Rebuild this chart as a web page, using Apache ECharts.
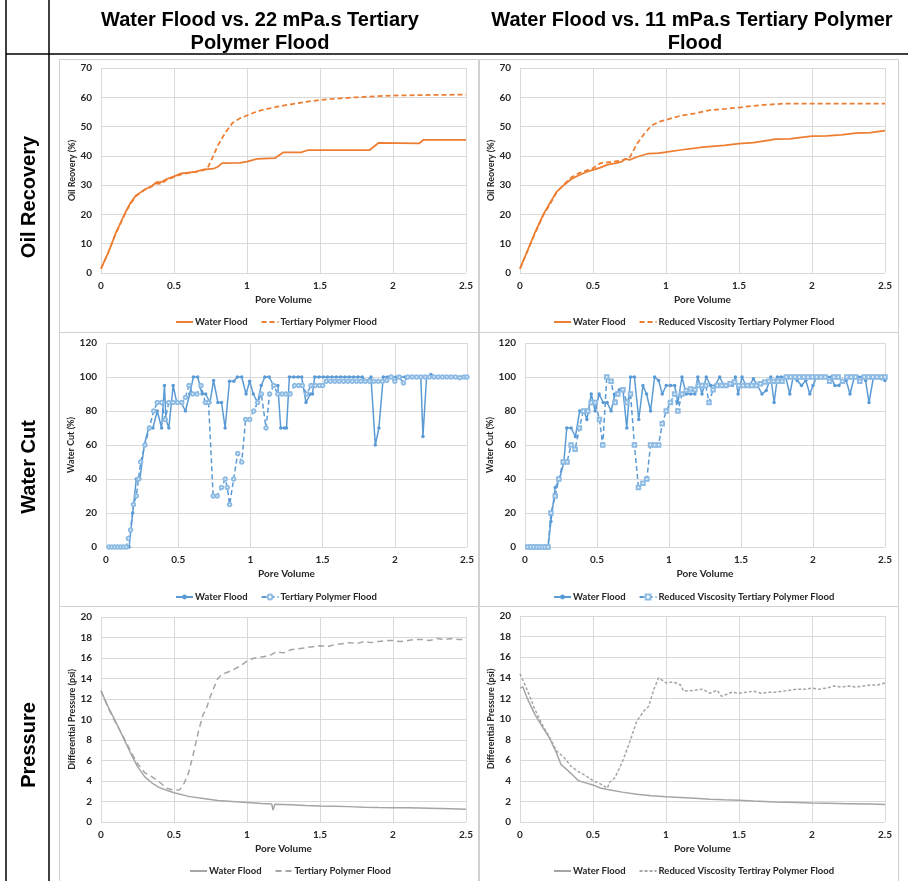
<!DOCTYPE html>
<html>
<head>
<meta charset="utf-8">
<script src="https://cdn.jsdelivr.net/npm/echarts@6/dist/echarts.min.js"></script>
<style>
  html, body { margin: 0; padding: 0; background: #fff; }
  #chart { width: 908px; height: 881px; }
</style>
</head>
<body>
<div id="chart"></div>
<script>
// ---- Oil recovery (%) vs pore volume ----
const oilWaterLeft = [[0,1.5],[0.05,7],[0.1,13.5],[0.17,21],[0.2,23.8],[0.24,26.5],[0.3,28.5],[0.35,29.8],[0.38,31],[0.41,31],[0.45,32.1],[0.5,33],[0.55,34],[0.6,34.3],[0.65,34.6],[0.7,35.3],[0.77,35.6],[0.8,36.3],[0.83,37.5],[0.95,37.6],[1.0,38],[1.05,38.7],[1.07,39],[1.19,39.2],[1.25,41.2],[1.37,41.2],[1.42,42],[1.84,42],[1.9,44.4],[2.18,44.3],[2.21,45.5],[2.5,45.5]];
const oilPolymerLeft = [[0,1.5],[0.05,7],[0.1,13.3],[0.17,20.8],[0.2,23.5],[0.24,26.3],[0.3,28.4],[0.35,29.6],[0.38,30.6],[0.41,30.4],[0.45,31.8],[0.5,32.8],[0.55,33.7],[0.6,34.2],[0.65,34.5],[0.7,35.1],[0.73,35.8],[0.76,39],[0.8,43.5],[0.85,47.8],[0.9,51.2],[0.95,52.8],[1.0,53.8],[1.05,54.8],[1.1,55.6],[1.2,56.7],[1.3,57.6],[1.4,58.4],[1.5,59.1],[1.6,59.5],[1.75,60],[1.9,60.4],[2.0,60.6],[2.25,60.8],[2.5,60.9]];
const oilWaterRight = [[0,1.5],[0.05,7.5],[0.1,13.5],[0.16,20],[0.2,23.5],[0.25,27.7],[0.3,30],[0.35,32],[0.4,33.3],[0.45,34.4],[0.5,35.2],[0.55,36],[0.6,37],[0.66,37.5],[0.7,38.1],[0.72,39],[0.75,38.6],[0.8,39.6],[0.88,40.8],[0.95,40.9],[1.0,41.3],[1.1,42],[1.2,42.6],[1.25,43],[1.4,43.6],[1.5,44.2],[1.6,44.5],[1.7,45.3],[1.75,45.7],[1.85,45.8],[1.9,46.1],[2.0,46.7],[2.1,46.8],[2.2,47.2],[2.3,47.8],[2.4,47.9],[2.45,48.3],[2.5,48.6]];
const oilPolymerRight = [[0,1.5],[0.05,7.3],[0.1,13.2],[0.16,19.8],[0.2,23],[0.25,27.5],[0.3,30.2],[0.35,32.6],[0.4,34],[0.45,34.9],[0.5,35.8],[0.55,37.5],[0.6,37.8],[0.65,38.1],[0.7,38.5],[0.75,39.3],[0.8,44],[0.85,47.5],[0.9,50.3],[0.95,51.6],[1.0,52.3],[1.1,53.7],[1.2,54.5],[1.3,55.6],[1.4,56],[1.5,56.5],[1.6,57.1],[1.7,57.5],[1.8,57.8],[2.0,57.8],[2.25,57.8],[2.5,57.8]];

// ---- Water cut (%) vs pore volume ----
const cutWaterLeft = [[0.02,0],[0.04,0],[0.06,0],[0.08,0],[0.10,0],[0.12,0],[0.14,0],[0.16,0],[0.185,20],[0.21,40],[0.235,40],[0.265,60],[0.295,70],[0.325,70],[0.355,80],[0.385,70],[0.405,95],[0.415,75],[0.435,70],[0.465,95],[0.49,85],[0.52,85],[0.55,80],[0.58,90],[0.605,100],[0.635,100],[0.665,90],[0.69,90],[0.72,85],[0.745,98],[0.775,85],[0.80,85],[0.825,70],[0.855,97.5],[0.885,97.5],[0.91,100],[0.94,100],[0.97,90],[0.995,97.5],[1.02,90],[1.05,85],[1.075,95],[1.10,100],[1.13,100],[1.16,95],[1.19,95],[1.21,70],[1.235,70],[1.25,70],[1.27,100],[1.30,100],[1.33,100],[1.355,100],[1.385,85],[1.415,90],[1.43,90],[1.445,100],[1.475,100],[1.505,100],[1.535,100],[1.565,100],[1.595,100],[1.625,100],[1.655,100],[1.685,100],[1.715,100],[1.745,100],[1.775,100],[1.80,97.5],[1.835,100],[1.865,60],[1.89,70],[1.92,100],[1.95,100],[1.98,100],[2.01,100],[2.04,100],[2.07,100],[2.10,100],[2.13,100],[2.16,100],[2.18,100],[2.195,65],[2.22,100],[2.25,101.5],[2.28,100],[2.31,100],[2.34,100],[2.37,100],[2.40,100],[2.43,100],[2.46,100],[2.50,100]];
const cutPolymerLeft = [[0.02,0],[0.04,0],[0.06,0],[0.08,0],[0.10,0],[0.12,0],[0.14,0],[0.155,5],[0.17,10],[0.19,25],[0.21,30],[0.225,40],[0.24,50],[0.27,60],[0.30,70],[0.33,80],[0.355,85],[0.385,85],[0.41,75],[0.435,85],[0.465,85],[0.495,85],[0.525,85],[0.55,88],[0.575,95],[0.60,90],[0.63,90],[0.658,95],[0.688,85],[0.71,85],[0.742,30],[0.77,30],[0.80,35],[0.826,40],[0.84,35],[0.856,25],[0.884,40],[0.912,55],[0.94,50],[0.967,75],[0.995,75],[1.023,80],[1.05,85],[1.076,90],[1.108,70],[1.133,90],[1.161,95],[1.19,90],[1.219,90],[1.246,90],[1.275,90],[1.306,95],[1.335,95],[1.36,95],[1.39,90],[1.42,95],[1.45,95],[1.48,95],[1.50,95],[1.525,97.5],[1.555,97.5],[1.585,97.5],[1.615,97.5],[1.645,97.5],[1.675,97.5],[1.705,97.5],[1.735,97.5],[1.765,97.5],[1.795,97.5],[1.825,97.5],[1.855,97.5],[1.885,97.5],[1.915,97.5],[1.945,98],[1.975,100],[2.0,97.5],[2.03,100],[2.06,96.5],[2.09,100],[2.12,100],[2.15,100],[2.18,100],[2.21,100],[2.24,100],[2.27,100],[2.30,100],[2.33,100],[2.36,100],[2.39,100],[2.42,100],[2.45,99.5],[2.48,100],[2.50,100]];
const cutWaterRight = [[0.02,0],[0.04,0],[0.06,0],[0.08,0],[0.10,0],[0.12,0],[0.14,0],[0.16,0],[0.18,15],[0.21,35],[0.24,40],[0.27,50],[0.29,70],[0.32,70],[0.35,65],[0.38,80],[0.41,80],[0.43,75],[0.46,90],[0.487,80],[0.515,90],[0.543,85],[0.57,85],[0.598,80],[0.626,90],[0.656,92.5],[0.68,92.5],[0.707,70],[0.733,100],[0.76,100],[0.79,75],[0.819,95],[0.844,90],[0.872,80],[0.90,100],[0.928,98],[0.953,90],[0.981,95],[1.01,95],[1.039,95],[1.062,85],[1.09,100],[1.12,90],[1.15,90],[1.18,90],[1.20,100],[1.229,90],[1.259,100],[1.289,95],[1.32,95],[1.352,100],[1.38,95],[1.41,95],[1.44,95],[1.461,100],[1.48,90],[1.507,100],[1.535,95],[1.56,95],[1.586,99],[1.615,95],[1.646,90],[1.675,92],[1.707,100],[1.73,85],[1.753,100],[1.78,100],[1.81,100],[1.839,90],[1.862,100],[1.89,98],[1.92,95],[1.95,98],[1.978,90],[2.0,95],[2.025,100],[2.05,100],[2.075,100],[2.1,100],[2.125,100],[2.152,95],[2.18,95],[2.205,98],[2.23,98],[2.257,90],[2.287,100],[2.315,100],[2.34,100],[2.365,98],[2.389,85],[2.42,100],[2.45,100],[2.475,99],[2.50,98]];
const cutPolymerRight = [[0.02,0],[0.04,0],[0.06,0],[0.08,0],[0.10,0],[0.12,0],[0.14,0],[0.16,0],[0.18,20],[0.21,30],[0.235,40],[0.265,50],[0.292,50],[0.32,60],[0.348,57.5],[0.378,70],[0.405,80],[0.436,80],[0.46,85],[0.487,85],[0.517,75],[0.54,60],[0.568,100],[0.598,97.5],[0.626,85],[0.645,90],[0.68,92.5],[0.707,85],[0.733,90],[0.76,60],[0.788,35],[0.819,37.5],[0.846,40],[0.872,60],[0.90,60],[0.928,60],[0.953,72.5],[0.981,80],[1.01,85],[1.039,90],[1.062,80],[1.09,90],[1.12,92],[1.15,93],[1.18,92.5],[1.205,95],[1.23,95],[1.255,95],[1.278,85],[1.306,92.5],[1.335,95],[1.365,95],[1.395,95],[1.425,96],[1.455,97],[1.485,95],[1.515,95],[1.545,95],[1.575,95],[1.605,95],[1.635,96],[1.665,97],[1.695,97.5],[1.725,97.5],[1.755,97.5],[1.785,97.5],[1.815,100],[1.845,100],[1.875,100],[1.905,100],[1.935,100],[1.965,100],[1.995,100],[2.025,100],[2.055,100],[2.085,100],[2.115,97.5],[2.145,100],[2.175,100],[2.205,97.5],[2.235,100],[2.265,100],[2.295,100],[2.325,97.5],[2.355,100],[2.385,100],[2.415,100],[2.445,100],[2.475,100],[2.50,100]];

// ---- Differential pressure (psi) vs pore volume ----
const presWaterLeft = [[0,12.8],[0.05,11.2],[0.1,9.8],[0.15,8.3],[0.2,6.8],[0.25,5.4],[0.3,4.4],[0.35,3.8],[0.4,3.35],[0.45,3.1],[0.5,2.85],[0.6,2.5],[0.7,2.3],[0.8,2.1],[0.9,2.0],[1.0,1.9],[1.1,1.8],[1.17,1.75],[1.178,1.15],[1.19,1.72],[1.3,1.68],[1.4,1.6],[1.5,1.55],[1.6,1.53],[1.7,1.5],[1.8,1.45],[1.9,1.42],[2.0,1.4],[2.1,1.38],[2.25,1.35],[2.4,1.3],[2.5,1.25]];
const presPolymerLeft = [[0,12.8],[0.05,11.1],[0.1,9.7],[0.15,8.4],[0.2,7],[0.25,5.7],[0.3,4.8],[0.35,4.4],[0.4,3.9],[0.45,3.3],[0.5,3.1],[0.54,3.15],[0.57,3.8],[0.6,4.8],[0.63,6.5],[0.67,9],[0.7,10.5],[0.72,11],[0.75,12.3],[0.8,14],[0.83,14.4],[0.9,14.8],[0.95,15.2],[1.0,15.7],[1.05,16],[1.1,16.1],[1.15,16.2],[1.2,16.6],[1.25,16.5],[1.3,16.8],[1.35,16.9],[1.4,17],[1.45,17.1],[1.5,17.2],[1.55,17.1],[1.6,17.3],[1.65,17.4],[1.7,17.5],[1.75,17.4],[1.8,17.6],[1.85,17.5],[1.9,17.6],[1.95,17.7],[2.0,17.7],[2.05,17.6],[2.1,17.7],[2.15,17.8],[2.2,17.8],[2.25,17.7],[2.3,17.9],[2.35,17.8],[2.4,17.9],[2.45,17.8],[2.5,17.8]];
const presWaterRight = [[0,13.0],[0.02,13.1],[0.05,12],[0.1,10.5],[0.15,9.3],[0.2,8.2],[0.25,6.7],[0.28,5.6],[0.32,5.1],[0.35,4.7],[0.4,4.0],[0.45,3.8],[0.5,3.6],[0.55,3.3],[0.6,3.15],[0.7,2.9],[0.8,2.7],[0.9,2.55],[1.0,2.45],[1.1,2.38],[1.2,2.3],[1.3,2.22],[1.4,2.15],[1.5,2.1],[1.6,2.03],[1.75,1.95],[1.9,1.9],[2.0,1.85],[2.1,1.82],[2.25,1.78],[2.4,1.74],[2.5,1.7]];
const presPolymerRight = [[0,14.4],[0.05,12.8],[0.1,11],[0.15,9.5],[0.2,8.3],[0.25,6.9],[0.3,6.3],[0.35,5.4],[0.4,4.9],[0.45,4.5],[0.5,4.0],[0.55,3.7],[0.6,3.3],[0.61,3.8],[0.65,4.3],[0.7,5.8],[0.75,7.7],[0.8,9.8],[0.85,10.8],[0.88,11.2],[0.92,13],[0.95,14],[1.0,13.5],[1.05,13.6],[1.1,13.3],[1.12,12.7],[1.2,12.8],[1.25,12.9],[1.3,12.5],[1.35,12.8],[1.38,12.2],[1.45,12.6],[1.5,12.5],[1.55,12.6],[1.6,12.7],[1.65,12.5],[1.7,12.6],[1.75,12.6],[1.8,12.7],[1.85,12.8],[1.9,12.9],[1.95,12.9],[2.0,13.0],[2.05,12.9],[2.1,13.0],[2.15,13.2],[2.2,13.1],[2.25,13.2],[2.3,13.1],[2.35,13.2],[2.4,13.3],[2.45,13.3],[2.5,13.5]];

// ---- Text ----
const columnTitles = [
  ['Water Flood vs. 22 mPa.s Tertiary', 'Polymer Flood'],
  ['Water Flood vs. 11 mPa.s Tertiary Polymer', 'Flood']
];
const rowTitles = ['Oil Recovery', 'Water Cut', 'Pressure'];
const axisTitles = ['Oil Reovery (%)', 'Water Cut (%)', 'Differential Pressure (psi)'];
const xTitle = 'Pore Volume';
const seriesNames = [
  ['Water Flood', 'Tertiary Polymer Flood'],
  ['Water Flood', 'Reduced Viscosity Tertiary Polymer Flood'],
  ['Water Flood', 'Tertiary Polymer Flood'],
  ['Water Flood', 'Reduced Viscosity Tertiary Polymer Flood'],
  ['Water Flood', 'Tertiary Polymer Flood'],
  ['Water Flood', 'Reduced Viscosity Tertiray Polymer Flood']
];

const ORANGE = '#ED7D31', BLUE = '#5B9BD5', GREY = '#A5A5A5';
const TXT = '#262626', GRID = '#D9D9D9';
const FONT = 'Lato, "Open Sans", sans-serif';

// panel geometry (grid boxes) and per-panel axis settings
const panels = [
  { grid: { left: 101, top: 68, width: 365, height: 205 }, yMax: 70, yInt: 10, yName: 0, yGap: 18, legendLeft: 170, legendTop: 312,
    data: [oilWaterLeft, oilPolymerLeft], color: ORANGE, kind: 'oil', dash: [5, 3] },
  { grid: { left: 520, top: 68, width: 365, height: 205 }, yMax: 70, yInt: 10, yName: 0, yGap: 19, legendLeft: 548, legendTop: 312,
    data: [oilWaterRight, oilPolymerRight], color: ORANGE, kind: 'oil', dash: [5, 3] },
  { grid: { left: 106, top: 343, width: 361, height: 204 }, yMax: 120, yInt: 20, yName: 1, yGap: 23, legendLeft: 170, legendTop: 587,
    data: [cutWaterLeft, cutPolymerLeft], color: BLUE, kind: 'cut', dash: [5, 3], openSymbol: 'emptyCircle' },
  { grid: { left: 525, top: 343, width: 360, height: 204 }, yMax: 120, yInt: 20, yName: 1, yGap: 24, legendLeft: 548, legendTop: 587,
    data: [cutWaterRight, cutPolymerRight], color: BLUE, kind: 'cut', dash: [5, 3], openSymbol: 'emptyRect' },
  { grid: { left: 101, top: 617, width: 365, height: 205 }, yMax: 20, yInt: 2, yName: 2, yGap: 18, legendLeft: 184, legendTop: 861,
    data: [presWaterLeft, presPolymerLeft], color: GREY, kind: 'pres', dash: [6, 4] },
  { grid: { left: 520, top: 616, width: 365, height: 206 }, yMax: 20, yInt: 2, yName: 2, yGap: 20, legendLeft: 548, legendTop: 861,
    data: [presWaterRight, presPolymerRight], color: GREY, kind: 'pres', dash: [3, 2] }
];

const grids = [], xAxes = [], yAxes = [], series = [], legends = [];
panels.forEach((p, i) => {
  grids.push(p.grid);
  xAxes.push({
    type: 'value', gridIndex: i, min: 0, max: 2.5, interval: 0.5,
    name: xTitle, nameLocation: 'middle', nameGap: 22,
    nameTextStyle: { fontFamily: FONT, fontWeight: 'bold', fontSize: 10, color: TXT },
    axisLine: { show: false }, axisTick: { show: false },
    axisLabel: { margin: 8, fontFamily: FONT, fontWeight: 'bold', fontSize: 10, color: TXT },
    splitLine: { show: true, lineStyle: { color: GRID, width: 1 } }
  });
  yAxes.push({
    type: 'value', gridIndex: i, min: 0, max: p.yMax, interval: p.yInt,
    name: axisTitles[p.yName], nameLocation: 'middle', nameGap: p.yGap,
    nameTextStyle: { fontFamily: FONT, fontWeight: 'bold', fontSize: 9, color: TXT },
    axisLine: { show: false }, axisTick: { show: false },
    axisLabel: { margin: 9, fontFamily: FONT, fontWeight: 'bold', fontSize: 10, color: TXT },
    splitLine: { show: true, lineStyle: { color: GRID, width: 1 } }
  });
  const names = seriesNames[i].map(n => n + '|' + i);
  const base = { type: 'line', xAxisIndex: i, yAxisIndex: i, smooth: false, animation: false, silent: true };
  const hasMarks = p.kind === 'cut';
  if (hasMarks) {
    series.push(Object.assign({}, base, {
      name: names[0], data: p.data[0], symbol: 'circle', symbolSize: 3.5, showAllSymbol: true,
      lineStyle: { color: p.color, width: 1.5 }, itemStyle: { color: p.color }
    }));
    series.push(Object.assign({}, base, {
      name: names[1], data: p.data[1], symbol: p.openSymbol, symbolSize: 3.5, showAllSymbol: true,
      lineStyle: { color: p.color, width: 1.5, type: p.dash },
      itemStyle: { color: '#8DBBE4', borderWidth: 0.6 }
    }));
  } else {
    series.push(Object.assign({}, base, {
      name: names[0], data: p.data[0], symbol: 'none',
      lineStyle: { color: p.color, width: p.kind === 'oil' ? 1.75 : 1.5 }, itemStyle: { color: p.color }
    }));
    series.push(Object.assign({}, base, {
      name: names[1], data: p.data[1], symbol: 'none',
      lineStyle: { color: p.color, width: p.kind === 'oil' ? 1.75 : 1.5, type: p.dash }, itemStyle: { color: p.color }
    }));
  }
  const legend = {
    data: names, left: p.legendLeft, top: p.legendTop, orient: 'horizontal',
    itemWidth: 17, itemHeight: 6, itemGap: 13, selectedMode: false,
    formatter: n => n.split('|')[0],
    textStyle: { fontFamily: FONT, fontWeight: 'bold', fontSize: 9.5, color: TXT, padding: [0, 0, 0, -3] }
  };
  if (!hasMarks) legend.itemStyle = { opacity: 0 };
  legends.push(legend);
});

// table frame, panel borders and header text
const graphics = [];
const panelBoxes = [
  [59.5, 59.5, 419, 273], [479.5, 59.5, 419, 273],
  [59.5, 332.5, 419, 274], [479.5, 332.5, 419, 274],
  [59.5, 606.5, 419, 290], [479.5, 606.5, 419, 290]
];
panelBoxes.forEach(b => graphics.push({
  type: 'rect', shape: { x: b[0], y: b[1], width: b[2], height: b[3] },
  style: { fill: 'none', stroke: '#D0D0D0', lineWidth: 1 }, silent: true, z: 0
}));
graphics.push(
  { type: 'line', shape: { x1: 6, y1: 0, x2: 6, y2: 881 }, style: { stroke: '#000', lineWidth: 1.5 }, silent: true },
  { type: 'line', shape: { x1: 49, y1: 0, x2: 49, y2: 881 }, style: { stroke: '#000', lineWidth: 1.5 }, silent: true },
  { type: 'line', shape: { x1: 6, y1: 54, x2: 908, y2: 54 }, style: { stroke: '#000', lineWidth: 1.5 }, silent: true }
);
const headerCenters = [[260, 260], [692, 695]];
columnTitles.forEach((lines, c) => {
  lines.forEach((t, k) => graphics.push({
    type: 'text', x: headerCenters[c][k], y: 20 + k * 23, silent: true,
    style: { text: t, fill: '#000', font: 'bold 20px "Liberation Sans", Arial, sans-serif', align: 'center', verticalAlign: 'middle' }
  }));
});
const rowCenters = [197, 467, 745];
rowTitles.forEach((t, r) => graphics.push({
  type: 'text', x: 29, y: rowCenters[r], rotation: Math.PI / 2, silent: true,
  style: { text: t, fill: '#000', font: 'bold 20px "Liberation Sans", Arial, sans-serif', align: 'center', verticalAlign: 'middle' }
}));

const chart = echarts.init(document.getElementById('chart'), null, { renderer: 'canvas' });
chart.setOption({
  animation: false,
  backgroundColor: '#fff',
  grid: grids,
  xAxis: xAxes,
  yAxis: yAxes,
  legend: legends,
  series: series,
  graphic: graphics
});
</script>
</body>
</html>
